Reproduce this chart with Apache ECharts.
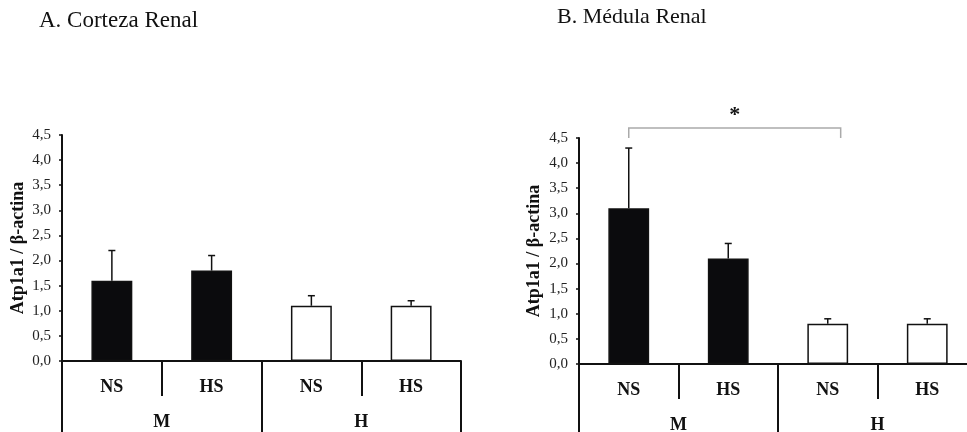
<!DOCTYPE html>
<html><head><meta charset="utf-8">
<script src="https://cdn.jsdelivr.net/npm/echarts@6/dist/echarts.min.js"></script>
<style>html,body{margin:0;padding:0;background:#fff}#c{width:967px;height:432px}</style>
</head><body><div id="c"></div>
<script>
const subCats = ['NS', 'HS', 'NS', 'HS'];
const groupCats = ['M', 'H'];
const corteza = [1.6, 1.8, 1.1, 1.1];
const cortezaErr = [0.6, 0.3, 0.2, 0.1];
const medula = [3.1, 2.1, 0.8, 0.8];
const medulaErr = [1.2, 0.3, 0.1, 0.1];
const barFill = ['#0b0b0d', '#0b0b0d', '#ffffff', '#ffffff'];
const sigPair = [0, 2]; // bracket between M-NS and H-NS in panel B
const yTicks = ['0,0','0,5','1,0','1,5','2,0','2,5','3,0','3,5','4,0','4,5'];

const FONT = '"Liberation Serif", "Times New Roman", serif';
const chart = echarts.init(document.getElementById('c'));

function yAxis(gi) {
  return {
    type: 'value', gridIndex: gi, min: 0, max: 4.5, interval: 0.5,
    name: 'Atp1a1 / β-actina', nameLocation: 'middle', nameGap: gi === 0 ? 35 : 36,
    nameTextStyle: { fontFamily: FONT, fontWeight: 'bold', fontSize: 18, color: '#111' },
    axisLine: { show: true, lineStyle: { color: '#111', width: 2 } },
    axisTick: { show: true, length: 3, lineStyle: { color: '#111', width: 1.5 } },
    splitLine: { show: false },
    axisLabel: { fontFamily: FONT, fontSize: 15, color: '#222', margin: 11,
      formatter: (v) => yTicks[Math.round(v / 0.5)] }
  };
}
function xSub(gi) {
  return {
    type: 'category', gridIndex: gi, data: subCats, position: 'bottom', offset: 0,
    axisLine: { show: true, onZero: false, lineStyle: { color: '#111', width: 2 } },
    axisTick: { show: true, length: 35, lineStyle: { color: '#111', width: 2 } },
    axisLabel: { fontFamily: FONT, fontWeight: 'bold', fontSize: 18, color: '#111', margin: 17 }
  };
}
function xGroup(gi) {
  return {
    type: 'category', gridIndex: gi, data: groupCats, position: 'bottom', offset: 0,
    axisLine: { show: false },
    axisTick: { show: true, length: 75, lineStyle: { color: '#111', width: 2 } },
    axisLabel: { fontFamily: FONT, fontWeight: 'bold', fontSize: 18, color: '#111', margin: 52 }
  };
}
function bars(xi, yi, vals) {
  return {
    type: 'bar', xAxisIndex: xi, yAxisIndex: yi, barWidth: '41%',
    data: vals.map((v, i) => ({ value: v, itemStyle: { color: barFill[i], borderColor: '#111', borderWidth: 1.5 } })),
    animation: false, z: 2
  };
}
function errs(xi, yi, vals, e) {
  return {
    type: 'custom', xAxisIndex: xi, yAxisIndex: yi, animation: false, z: 3,
    data: vals.map((v, i) => [i, v, v + e[i]]),
    renderItem: (params, api) => {
      const p0 = api.coord([api.value(0), api.value(1)]);
      const p1 = api.coord([api.value(0), api.value(2)]);
      const st = { stroke: '#111', lineWidth: 1.5 };
      return { type: 'group', children: [
        { type: 'line', shape: { x1: p0[0], y1: p0[1], x2: p1[0], y2: p1[1] }, style: st },
        { type: 'line', shape: { x1: p1[0] - 3.5, y1: p1[1], x2: p1[0] + 3.5, y2: p1[1] }, style: st }
      ]};
    }
  };
}

const option = {
  backgroundColor: '#fff',
  animation: false,
  title: [
    { text: 'A. Corteza Renal', left: 34, top: 4, textStyle: { fontFamily: FONT, fontWeight: 'normal', fontSize: 23, color: '#111' } },
    { text: 'B. Médula Renal', left: 552, top: 1, textStyle: { fontFamily: FONT, fontWeight: 'normal', fontSize: 22, color: '#111' } }
  ],
  grid: [
    { left: 62, top: 135, width: 399, height: 226, outerBoundsMode: 'none', containLabel: false },
    { left: 579, top: 138, width: 398, height: 226, outerBoundsMode: 'none', containLabel: false }
  ],
  xAxis: [xSub(0), xGroup(0), xSub(1), xGroup(1)],
  yAxis: [yAxis(0), yAxis(1)],
  series: [
    bars(0, 0, corteza), errs(0, 0, corteza, cortezaErr),
    bars(2, 1, medula), errs(2, 1, medula, medulaErr),
    {
      type: 'custom', xAxisIndex: 2, yAxisIndex: 1, animation: false, clip: false, z: 4,
      data: [[sigPair[0], sigPair[1], 4.5, 4.7]],
      renderItem: (params, api) => {
        const band = api.size([1, 0])[0];
        const a = api.coord([api.value(0), api.value(2)]);
        const b = api.coord([api.value(1), api.value(2)]);
        const t = api.coord([api.value(0), api.value(3)]);
        const bx = b[0] + band * 0.13;
        const st = { stroke: '#aaa', lineWidth: 1.5, fill: null };
        return { type: 'group', children: [
          { type: 'polyline', shape: { points: [[a[0], a[1]], [a[0], t[1]], [bx, t[1]], [bx, b[1]]] }, style: st },
          { type: 'text', style: { text: '*', x: (a[0] + bx) / 2, y: t[1] - 13, align: 'center', verticalAlign: 'middle',
            font: 'bold 22px ' + FONT, fill: '#111' } }
        ]};
      }
    }
  ]
};
chart.setOption(option);
</script></body></html>
